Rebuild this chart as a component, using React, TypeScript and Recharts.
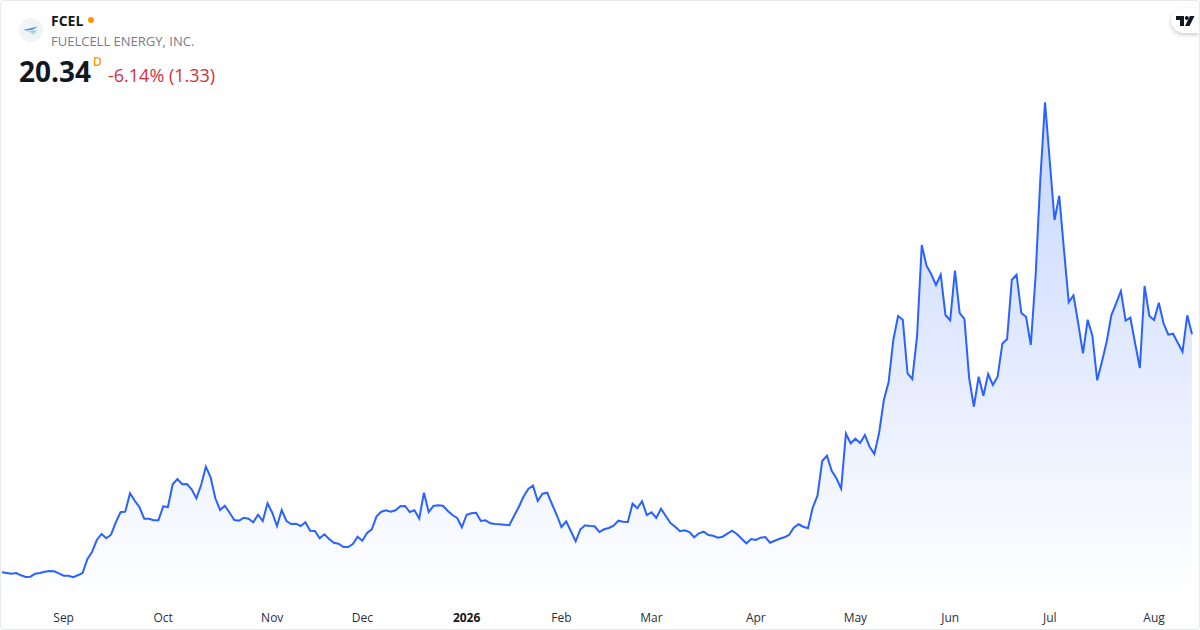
import React from 'react';
import { AreaChart, Area, XAxis, YAxis } from 'recharts';

// daily closes
const closes = [
  3.68, 3.63, 3.58, 3.63, 3.47, 3.35, 3.37, 3.58, 3.63, 3.72, 3.77, 3.75, 3.61, 3.44, 3.44, 3.33, 3.47, 3.63, 4.59, 5.12,
  5.94, 6.36, 6.06, 6.31, 7.18, 7.88, 7.92, 9.21, 8.69, 8.23, 7.43, 7.43, 7.32, 7.32, 8.30, 8.25, 9.84, 10.21, 9.84, 9.86,
  9.49, 8.86, 9.79, 11.07, 10.33, 8.86, 8.04, 8.34, 7.85, 7.34, 7.29, 7.50, 7.43, 7.18, 7.71, 7.27, 8.51, 7.85, 6.92, 8.04,
  7.27, 7.06, 7.08, 6.92, 7.18, 6.59, 6.57, 6.06, 6.34, 6.01, 5.75, 5.68, 5.45, 5.45, 5.66, 6.17, 5.89, 6.43, 6.69, 7.60,
  7.92, 8.02, 7.92, 8.02, 8.30, 8.32, 7.90, 8.02, 7.43, 9.25, 7.90, 8.32, 8.37, 8.34, 7.99, 7.69, 7.48, 6.83, 7.71, 7.81,
  7.85, 7.27, 7.32, 7.11, 7.06, 7.04, 7.01, 6.97, 7.62, 8.25, 8.97, 9.51, 9.74, 8.67, 9.18, 9.25, 8.46, 7.69, 6.85, 7.25,
  6.55, 5.85, 6.69, 6.97, 6.92, 6.90, 6.50, 6.69, 6.78, 6.94, 7.29, 7.22, 7.20, 8.48, 8.16, 8.65, 7.69, 7.88, 7.48, 8.13,
  7.62, 7.13, 6.87, 6.55, 6.62, 6.50, 6.13, 6.41, 6.52, 6.29, 6.24, 6.10, 6.17, 6.38, 6.59, 6.36, 6.03, 5.71, 6.01, 5.94,
  6.10, 6.15, 5.75, 5.89, 6.03, 6.13, 6.29, 6.80, 7.04, 6.87, 6.76, 8.20, 9.04, 11.47, 11.84, 10.79, 10.26, 9.53, 13.38, 12.71,
  13.03, 12.73, 13.29, 12.47, 11.96, 13.43, 15.74, 16.98, 19.94, 21.62, 21.36, 17.61, 17.21, 20.17, 26.59, 25.14, 24.54, 23.79, 24.51, 21.69,
  21.32, 24.79, 21.83, 21.41, 17.26, 15.27, 17.37, 16.04, 17.56, 16.79, 17.37, 19.68, 20.01, 24.16, 24.51, 21.83, 21.57, 19.59, 24.37, 31.14,
  36.58, 32.47, 28.34, 30.04, 26.24, 22.58, 23.07, 21.11, 19.01, 21.36, 20.22, 17.12, 18.42, 19.82, 21.69, 22.51, 23.37, 21.29, 21.50, 19.71,
  17.98, 23.72, 21.62, 21.34, 22.55, 21.11, 20.31, 20.38, 19.75, 19.12, 21.67, 20.34,
];

// first trading day of each month
const tickIndexes = [13, 34, 57, 76, 98, 118, 137, 159, 180, 200, 221, 243];
const tickLabels = ['Sep', 'Oct', 'Nov', 'Dec', '2026', 'Feb', 'Mar', 'Apr', 'May', 'Jun', 'Jul', 'Aug'];

const chartData = closes.map((close, i) => ({ i, close }));

const FONT = '"Open Sans", sans-serif';

const MonthTick = (props: any) => {
    const label = tickLabels[props.index];
    return (
        <text
            x={props.x}
            y={622}
            textAnchor="middle"
            fontFamily={FONT}
            fontSize={12}
            fontWeight={label === '2026' ? 700 : 400}
            fill={label === '2026' ? '#131722' : '#2a2e39'}
        >
            {label}
        </text>
    );
};

const Header = () => (
    <>
        <svg width={24} height={24} style={{ position: 'absolute', left: 19, top: 18 }}>
            <circle cx={12} cy={12} r={12} fill="#f0f3fa" />
            <path d="M4 12 L19 8.5 L14 11.5 L8 12.5 Z" fill="#4a8fc4" />
            <path d="M6 13 L19 12.5 L15 14 Z" fill="#78c4dc" />
            <path d="M10 14.5 L18 14.5 L14 16 Z" fill="#86d0a8" />
        </svg>
        <div style={{ position: 'absolute', left: 51, top: 12, fontSize: 14, lineHeight: '18px', fontWeight: 700, color: '#131722' }}>
            FCEL
        </div>
        <div style={{ position: 'absolute', left: 88, top: 17, width: 6, height: 6, borderRadius: 3, background: '#ff9800' }} />
        <div style={{ position: 'absolute', left: 51, top: 32, fontSize: 13, lineHeight: '18px', color: '#787b86' }}>
            FUELCELL ENERGY, INC.
        </div>
        <div style={{ position: 'absolute', left: 19, top: 52, fontSize: 28, lineHeight: '38px', fontWeight: 700, color: '#131722' }}>
            20.34
        </div>
        <div style={{ position: 'absolute', left: 93, top: 54, fontSize: 12, lineHeight: '16px', fontWeight: 600, color: '#ff9800' }}>
            D
        </div>
        <div style={{ position: 'absolute', left: 108, top: 62, fontSize: 18, lineHeight: '26px', color: '#d32f3f' }}>
            -6.14% (1.33)
        </div>
        <div
            style={{
                position: 'absolute',
                left: 1171,
                top: 8,
                width: 28,
                height: 25,
                borderRadius: '13px 0 0 13px',
                background: '#fff',
                boxShadow: '0 2px 4px rgba(0,0,0,0.2)',
            }}
        >
            <svg width={19} height={11} style={{ position: 'absolute', left: 5, top: 8 }}>
                <path d="M0 0 H8 V10 H4 V4 H0 Z" fill="#131722" />
                <circle cx={10.8} cy={2} r={2} fill="#131722" />
                <path d="M14 0 H18.5 L13.5 10 H9 Z" fill="#131722" />
            </svg>
        </div>
    </>
);

export default function App() {
    return (
        <div
            style={{
                position: 'absolute',
                left: 0,
                top: 0,
                width: 1200,
                height: 630,
                background: '#fff',
                overflow: 'hidden',
                fontFamily: FONT,
            }}
        >
            <AreaChart width={1200} height={630} data={chartData} margin={{ top: 0, right: 8, bottom: 0, left: 2 }}>
                <defs>
                    <linearGradient id="areaFill" x1="0" y1="0" x2="0" y2="1">
                        <stop offset="0%" stopColor="#2962ff" stopOpacity={0.44} />
                        <stop offset="100%" stopColor="#2962ff" stopOpacity={0} />
                    </linearGradient>
                </defs>
                <XAxis
                    dataKey="i"
                    type="number"
                    domain={[0, 251]}
                    ticks={tickIndexes}
                    height={30}
                    axisLine={false}
                    tickLine={false}
                    interval={0}
                    tick={<MonthTick />}
                />
                <YAxis hide domain={[1.74, 43.74]} />
                <Area
                    type="linear"
                    dataKey="close"
                    stroke="#2962ff"
                    strokeWidth={2}
                    fill="url(#areaFill)"
                    dot={false}
                    activeDot={false}
                    isAnimationActive={false}
                />
            </AreaChart>
            <Header />
            {/* card border on top of everything */}
            <div
                style={{
                    position: 'absolute',
                    left: 0,
                    top: 0,
                    width: 1198,
                    height: 628,
                    border: '1px solid #e8e9ec',
                    borderRadius: 4,
                    pointerEvents: 'none',
                }}
            />
        </div>
    );
}
